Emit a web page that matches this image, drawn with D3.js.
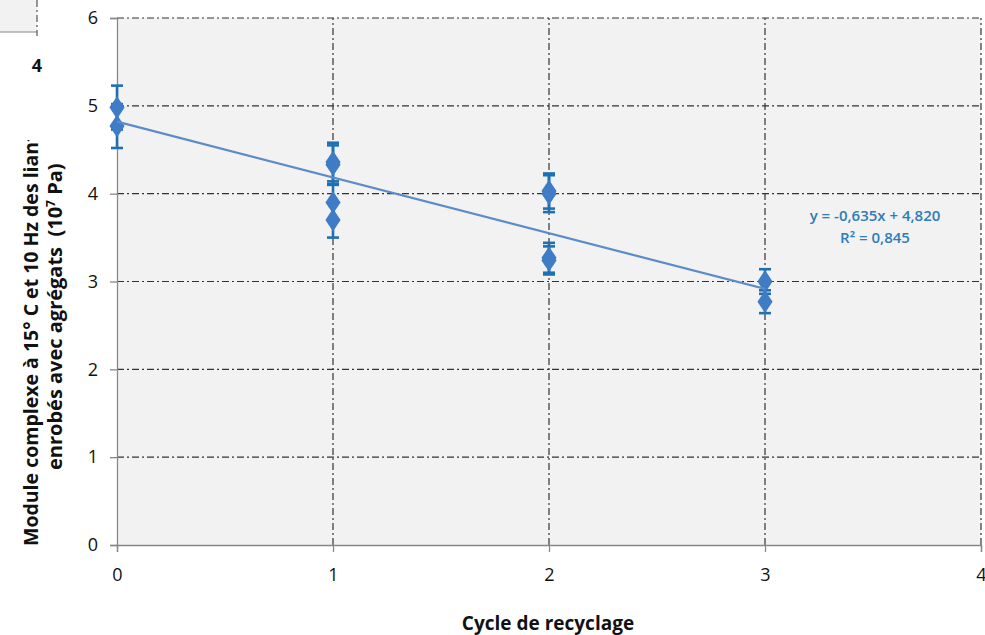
<!DOCTYPE html>
<html>
<head>
	<meta charset="utf-8">
	<title>Module complexe vs cycle de recyclage</title>
	<style>
		body { margin: 0; background: #fff; }
		svg { display: block; font-family: 'Open Sans', 'Noto Sans', sans-serif; }
		.tick-label { font-size: 18px; font-weight: 500; fill: #111; }
		.axis-title { font-size: 19.5px; font-weight: 700; fill: #111; white-space: pre; }
		.eq { font-size: 15px; font-weight: 600; fill: #2e7cb8; }
	</style>
</head>
<body>
	<svg width="985" height="635"></svg>
<script src="https://d3js.org/d3.v7.min.js"></script>
<script>

	// data
	const cycles = [0, 0, 1, 1, 1, 1, 2, 2, 2, 2, 3, 3];
	const modulus = [4.98, 4.77, 4.36, 4.33, 3.90, 3.70, 4.03, 4.00, 3.27, 3.24, 3.00, 2.77];
	const errors = [0.25, 0.25, 0.22, 0.22, 0.20, 0.20, 0.20, 0.21, 0.17, 0.16, 0.14, 0.13];
	const xTicks = [0, 1, 2, 3, 4];
	const yTicks = [0, 1, 2, 3, 4, 5, 6];
	const slope = -0.635, intercept = 4.820;
	const trendRange = [0, 3];
	const eqLines = ['y = -0,635x + 4,820', 'R² = 0,845'];

	const svg = d3.select('svg');

	const x = d3.scaleLinear().domain([0, 4]).range([117, 981]);
	const y = d3.scaleLinear().domain([0, 6]).range([545, 18]);

	const dashDot = '7,3,2,3';

	// fragment of the neighbouring chart, top-left
	svg.append('rect').attr('x', 0).attr('y', 0).attr('width', 37).attr('height', 32).attr('fill', '#f2f2f2');
	svg.append('line').attr('x1', 0).attr('x2', 37).attr('y1', 32).attr('y2', 32).attr('stroke', '#888');
	svg.append('line').attr('x1', 37).attr('x2', 37).attr('y1', 0).attr('y2', 36)
		.attr('stroke', '#333').attr('stroke-dasharray', dashDot);
	svg.append('text').attr('class', 'tick-label').attr('x', 37).attr('y', 72)
		.attr('text-anchor', 'middle').style('font-weight', 700).text('4');

	// plot background
	svg.append('rect')
		.attr('x', x(0)).attr('y', y(6))
		.attr('width', x(4) - x(0)).attr('height', y(0) - y(6))
		.attr('fill', '#f2f2f2');

	// grid lines
	svg.append('g').selectAll('line')
		.data(yTicks.filter(d => d > 0))
		.join('line')
		.attr('x1', x(0)).attr('x2', x(4))
		.attr('y1', d => y(d)).attr('y2', d => y(d))
		.attr('stroke', '#333').attr('stroke-width', 1.2)
		.attr('stroke-dasharray', dashDot);

	svg.append('g').selectAll('line')
		.data(xTicks.filter(d => d > 0))
		.join('line')
		.attr('x1', d => x(d)).attr('x2', d => x(d))
		.attr('y1', y(0)).attr('y2', y(6))
		.attr('stroke', '#333').attr('stroke-width', 1.2)
		.attr('stroke-dasharray', dashDot);

	// axes
	const yAxis = svg.append('g')
		.attr('transform', `translate(${x(0)},0)`)
		.call(d3.axisLeft(y).tickValues(yTicks).tickSize(7).tickPadding(12).tickFormat(d3.format('d')));
	const xAxis = svg.append('g')
		.attr('transform', `translate(0,${y(0)})`)
		.call(d3.axisBottom(x).tickValues(xTicks).tickSize(7).tickPadding(27).tickFormat(d3.format('d')));

	[yAxis, xAxis].forEach(a => {
		a.attr('font-size', null).attr('font-family', null);
		a.select('.domain').attr('stroke', '#888').attr('stroke-width', 1.3);
		a.selectAll('.tick line').attr('stroke', '#888').attr('stroke-width', 1.3);
		a.selectAll('.tick text').attr('class', 'tick-label').attr('fill', null);
	});
	xAxis.selectAll('.tick text').attr('dy', '0.1em');

	const points = cycles.map((c, i) => ({ c: c, v: modulus[i], e: errors[i] }));

	// error bars
	const eb = svg.append('g').attr('stroke', '#1f6fb4').attr('stroke-width', 2.6);
	eb.selectAll('line.stem')
		.data(points)
		.join('line')
		.attr('class', 'stem')
		.attr('x1', d => x(d.c)).attr('x2', d => x(d.c))
		.attr('y1', d => y(d.v + d.e)).attr('y2', d => y(d.v - d.e));
	eb.selectAll('line.cap')
		.data(points.flatMap(d => [d.v + d.e, d.v - d.e].map(v => ({ c: d.c, v: v }))))
		.join('line')
		.attr('class', 'cap')
		.attr('x1', d => x(d.c) - 6).attr('x2', d => x(d.c) + 6)
		.attr('y1', d => y(d.v)).attr('y2', d => y(d.v));

	// markers
	svg.append('g').selectAll('path')
		.data(points)
		.join('path')
		.attr('d', d3.symbol().type(d3.symbolDiamond).size(150))
		.attr('transform', d => `translate(${x(d.c)},${y(d.v)}) scale(1.15,1)`)
		.attr('fill', '#3f7cc6');

	// linear trend line
	svg.append('path')
		.datum(trendRange)
		.attr('d', d3.line().x(d => x(d)).y(d => y(slope * d + intercept)))
		.attr('stroke', '#5b8bc9').attr('stroke-width', 2.2).attr('fill', 'none');

	// equation
	svg.append('g').selectAll('text')
		.data(eqLines)
		.join('text')
		.attr('class', 'eq')
		.attr('x', 875).attr('y', (d, i) => 221 + i * 22)
		.attr('text-anchor', 'middle')
		.text(d => d);

	// axis titles
	svg.append('text').attr('class', 'axis-title')
		.attr('x', 548).attr('y', 630).attr('text-anchor', 'middle')
		.style('font-size', '19px')
		.text('Cycle de recyclage');

	svg.append('clipPath').attr('id', 'yclip')
		.append('rect').attr('x', 0).attr('y', 140).attr('width', 80).attr('height', 460);

	const yTitle = svg.append('g').attr('clip-path', 'url(#yclip)');
	yTitle.append('text').attr('class', 'axis-title')
		.attr('transform', 'translate(38,546) rotate(-90)')
		.text('Module complexe à 15° C et 10 Hz des liants');
	const line2 = yTitle.append('text').attr('class', 'axis-title')
		.attr('transform', 'translate(62,470) rotate(-90)')
		.style('font-size', '20px');
	line2.append('tspan').text('enrobés avec agrégats  (10');
	line2.append('tspan').attr('dy', -7).style('font-size', '12px').text('7');
	line2.append('tspan').attr('dy', 7).text(' Pa)');

</script>
</body>
</html>
